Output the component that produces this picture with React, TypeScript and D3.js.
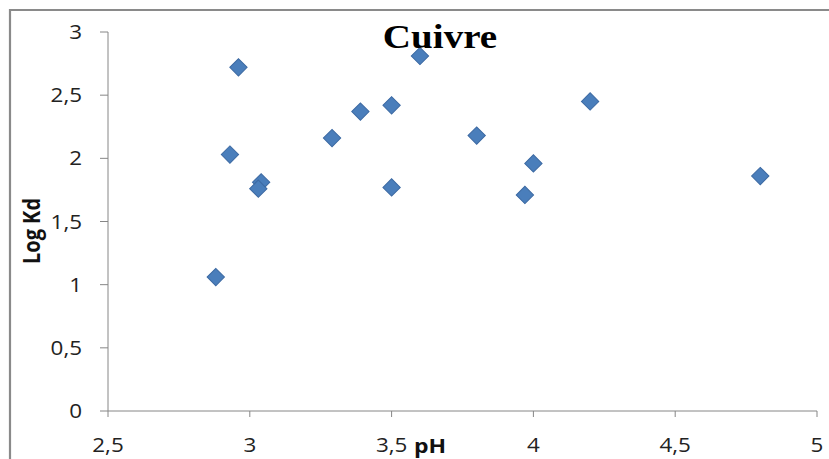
import React from "react";
import * as d3 from "d3";

// Copper partition data: pH versus log Kd
const phValues = [2.96, 2.93, 3.04, 3.03, 3.29, 3.39, 3.5, 3.5, 3.6, 3.8, 4.0, 3.97, 4.2, 4.8, 2.88];
const logKdValues = [2.72, 2.03, 1.81, 1.76, 2.16, 2.37, 2.42, 1.77, 2.81, 2.18, 1.96, 1.71, 2.45, 1.86, 1.06];
const xTicks = [2.5, 3, 3.5, 4, 4.5, 5];
const yTicks = [0, 0.5, 1, 1.5, 2, 2.5, 3];
const chartTitle = "Cuivre";
const xTitle = "pH";
const yTitle = "Log Kd";

const W = 829;
const H = 459;
const STRETCH = 1.15;
const fmt = (v: number) => String(v).replace(".", ",");

export default function App() {
  const x = d3.scaleLinear().domain([2.5, 5]).range([108, 817]);
  const y = d3.scaleLinear().domain([0, 3]).range([411, 32]);
  const diamond = d3.symbol().type(d3.symbolSquare).size(150)();
  const axisColor = "#868686";
  const labelFont = "'Open Sans', 'Liberation Sans', sans-serif";

  return (
    <svg
      width={W}
      height={H}
      style={{ position: "absolute", left: 0, top: 0, background: "#fff" }}
    >
      <rect x={0} y={0} width={W} height={H} fill="#fff" />
      {/* outer frame */}
      <path d={`M10,${H} V10 H${W}`} fill="none" stroke="#8a8a8a" strokeWidth={2.2} />

      {/* axes */}
      <line x1={x(2.5)} x2={x(5)} y1={y(0)} y2={y(0)} stroke={axisColor} strokeWidth={1} />
      <line x1={x(2.5)} x2={x(2.5)} y1={y(0)} y2={y(3)} stroke={axisColor} strokeWidth={1} />
      {yTicks.map((t) => (
        <g key={`yt${t}`}>
          <line x1={x(2.5) - 8} x2={x(2.5)} y1={y(t)} y2={y(t)} stroke={axisColor} />
          <g transform={`translate(82,${y(t) + 7}) scale(${STRETCH},1)`}>
            <text textAnchor="end" fontFamily={labelFont} fontSize={19.5} fill="#222">
              {fmt(t)}
            </text>
          </g>
        </g>
      ))}
      {xTicks.map((t) => (
        <g key={`xt${t}`}>
          <line x1={x(t)} x2={x(t)} y1={y(0)} y2={y(0) + 6} stroke={axisColor} />
          <g transform={`translate(${x(t)},452) scale(${STRETCH},1)`}>
            <text textAnchor="middle" fontFamily={labelFont} fontSize={19.5} fill="#222">
              {fmt(t)}
            </text>
          </g>
        </g>
      ))}

      {/* axis titles */}
      <g transform={`translate(430,453) scale(${STRETCH},1)`}>
        <text textAnchor="middle" fontFamily={labelFont} fontWeight="bold" fontSize={20} fill="#111">
          {xTitle}
        </text>
      </g>
      <g transform={`translate(40,231) scale(${STRETCH},1) rotate(-90)`}>
        <text textAnchor="middle" fontFamily={labelFont} fontWeight="bold" fontSize={20} fill="#111">
          {yTitle}
        </text>
      </g>

      {/* points */}
      {phValues.map((p, i) => (
        <path
          key={i}
          d={diamond as string}
          transform={`translate(${x(p)},${y(logKdValues[i])}) rotate(45)`}
          fill="#4a7ebb"
          stroke="#3d6aa3"
          strokeWidth={1}
        />
      ))}

      {/* chart title */}
      <g transform={`translate(440,48) scale(${STRETCH},1)`}>
        <text
          textAnchor="middle"
          fontFamily="'Liberation Serif', 'Times New Roman', serif"
          fontWeight="bold"
          fontSize={34}
          fill="#000"
        >
          {chartTitle}
        </text>
      </g>
    </svg>
  );
}
